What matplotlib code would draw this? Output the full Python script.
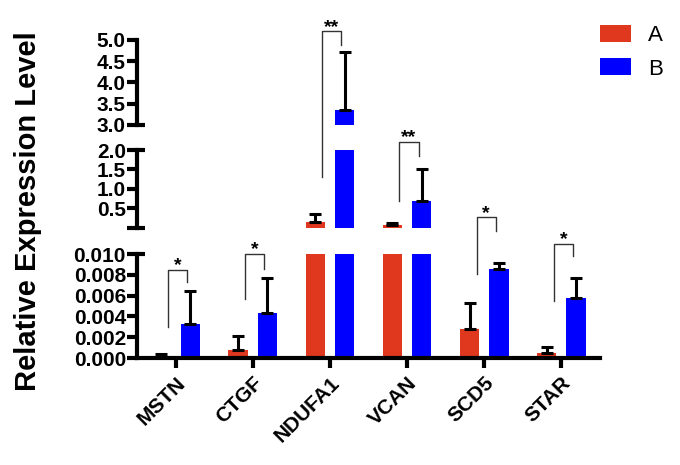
import numpy as np
import matplotlib
matplotlib.use("Agg")
import matplotlib.pyplot as plt
from matplotlib.lines import Line2D

plt.rcParams['font.family'] = ['Liberation Sans', 'DejaVu Sans']

genes = ['MSTN', 'CTGF', 'NDUFA1', 'VCAN', 'SCD5', 'STAR']
group_a = [0.0001, 0.00077, 0.16, 0.08, 0.0028, 0.0005]
err_a = [0.0003, 0.0013, 0.20, 0.05, 0.0025, 0.0006]
group_b = [0.0033, 0.0043, 3.35, 0.70, 0.0086, 0.0058]
err_b = [0.0031, 0.0034, 1.36, 0.82, 0.0005, 0.0019]
signif = ['*', '*', '**', '**', '*', '*']

red = '#E0371F'
blue = '#0000FF'

fig = plt.figure(figsize=(6.8, 4.65), dpi=100)
left, width = 137 / 680, 463 / 680
ax_top = fig.add_axes([left, 1 - 125 / 465, width, 85 / 465])
ax_mid = fig.add_axes([left, 1 - 228 / 465, width, 78 / 465])
ax_bot = fig.add_axes([left, 1 - 358 / 465, width, 104 / 465])
axes = [ax_top, ax_mid, ax_bot]

ax_top.set_ylim(3.0, 5.0)
ax_mid.set_ylim(0, 2.0)
ax_bot.set_ylim(0, 0.010)

x = np.arange(len(genes))
off, bw = 0.19, 0.25


def upper_err(ax, xs, vals, errs):
    # only draw the part of an error bar that belongs to this segment
    lo, hi = ax.get_ylim()
    vals = np.array(vals, float)
    errs = np.array(errs, float)
    keep = (vals + errs > lo + (hi - lo) * 0.02) & (vals < hi)
    v = np.where(keep, vals, np.nan)
    e = np.where(keep, errs, np.nan)
    ax.errorbar(xs, v, yerr=[np.zeros(len(v)), e], fmt='none', ecolor='black',
                elinewidth=2.2, capsize=4, capthick=2.2)


for ax in axes:
    ax.bar(x - off, group_a, bw, color=red, label='A')
    ax.bar(x + off, group_b, bw, color=blue, label='B')
    upper_err(ax, x - off, group_a, err_a)
    upper_err(ax, x + off, group_b, err_b)
    ax.set_xlim(-0.5, len(genes) - 0.5)
    for s in ['top', 'right']:
        ax.spines[s].set_visible(False)
    ax.spines['left'].set_linewidth(3)
    ax.spines['bottom'].set_linewidth(3)
    ax.tick_params(axis='y', length=7, width=3, pad=1)

ax_top.set_yticks([3.0, 3.5, 4.0, 4.5, 5.0])
ax_mid.set_yticks([0, 0.5, 1.0, 1.5, 2.0])
ax_mid.set_yticklabels(['', '0.5', '1.0', '1.5', '2.0'])
ax_bot.set_yticks([0, 0.002, 0.004, 0.006, 0.008, 0.010])
ax_bot.set_yticklabels(['0.000', '0.002', '0.004', '0.006', '0.008', '0.010'])
for ax in axes:
    for lab in ax.get_yticklabels():
        lab.set_fontweight('bold')
        lab.set_fontsize(15)

for ax in [ax_top, ax_mid]:
    ax.spines['bottom'].set_visible(False)
    ax.set_xticks([])

ax_bot.set_xticks(x)
ax_bot.set_xticklabels(genes, rotation=45, ha='right', rotation_mode='anchor',
                       fontsize=15, fontweight='bold')
ax_bot.tick_params(axis='x', length=7, width=3, pad=4)

# break marks on the inner side of the spine
for ax, yv in [(ax_top, 3.0), (ax_mid, 0), (ax_mid, 2.0), (ax_bot, 0.010)]:
    ax.plot([0, 0.018], [yv, yv], color='black', lw=3, solid_capstyle='butt',
            transform=ax.get_yaxis_transform(), clip_on=False)

# significance brackets: (axes, value) for left leg, top, right leg end
brackets = [
    ((ax_bot, 0.0030), (ax_bot, 0.0085), (ax_bot, 0.0073)),
    ((ax_bot, 0.0057), (ax_bot, 0.0100), (ax_bot, 0.0086)),
    ((ax_mid, 1.31), (ax_top, 5.2), (ax_top, 4.88)),
    ((ax_mid, 0.70), (ax_mid, 2.2), (ax_mid, 1.84)),
    ((ax_bot, 0.0081), (ax_mid, 0.27), (ax_mid, -0.07)),
    ((ax_bot, 0.0055), (ax_bot, 0.0110), (ax_bot, 0.0098)),
]


def to_fig(ax, xv, yv):
    return fig.transFigure.inverted().transform(ax.transData.transform((xv, yv)))


for i, (lo, top, ro) in enumerate(brackets):
    xl, xr = x[i] - 0.1, x[i] + 0.15
    pts = np.array([to_fig(lo[0], xl, lo[1]), to_fig(top[0], xl, top[1]),
                    to_fig(top[0], xr, top[1]), to_fig(ro[0], xr, ro[1])])
    fig.add_artist(Line2D(pts[:, 0], pts[:, 1], color='#333333', lw=1,
                          transform=fig.transFigure))
    top[0].annotate(signif[i], ((xl + xr) / 2, top[1]), xytext=(0, -3),
                    textcoords='offset points', ha='center', va='bottom',
                    fontsize=14, fontweight='bold', annotation_clip=False)

fig.text(28 / 680, 1 - 211 / 465, 'Relative Expression Level', rotation=90,
         ha='center', va='center', fontsize=21, fontweight='bold')

h, l = ax_bot.get_legend_handles_labels()
fig.legend(h, l, loc='upper left', bbox_to_anchor=(600 / 680, 1 - 25 / 465),
           frameon=False, fontsize=16, handlelength=1.4, handleheight=0.8,
           handletextpad=0.75, labelspacing=0.55, borderpad=0, borderaxespad=0)

fig.savefig('out.png', dpi=100)
